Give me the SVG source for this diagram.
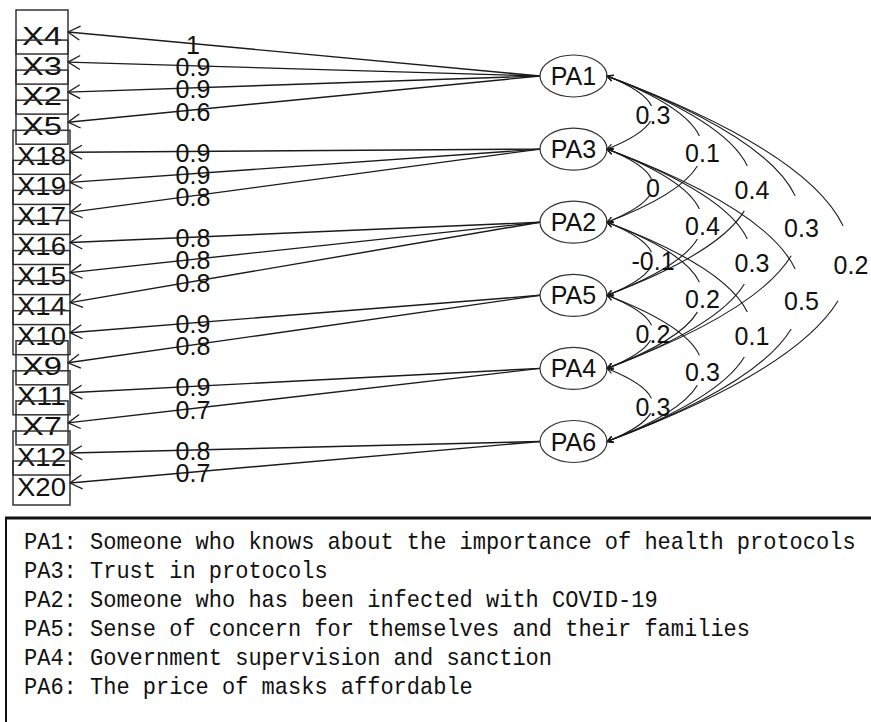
<svg xmlns="http://www.w3.org/2000/svg" width="871" height="722" viewBox="0 0 871 722">
<style>
.box{fill:none;stroke:#333;stroke-width:1.5}
.vl{font-family:"Liberation Sans",Arial,sans-serif;font-size:26px;fill:#111;text-anchor:middle}
.fe{fill:none;stroke:#333;stroke-width:1.2}
.fl{font-family:"Liberation Sans",Arial,sans-serif;font-size:25px;fill:#111;text-anchor:middle}
.ld{stroke:#1a1a1a;stroke-width:1.4;fill:none;marker-end:url(#ah)}
.cv{stroke:#1a1a1a;stroke-width:1.1;fill:none;marker-end:url(#ch)}
.el{font-family:"Liberation Sans",Arial,sans-serif;font-size:25px;fill:#111;text-anchor:middle}
.lg{font-family:"Liberation Mono","DejaVu Sans Mono",monospace;font-size:24px;fill:#111}
</style>
<defs>
<marker id="ah" markerUnits="userSpaceOnUse" viewBox="-14 -8 16 16" markerWidth="16" markerHeight="16" refX="0" refY="0" orient="auto" overflow="visible">
<path d="M-12,-7 L0,0 L-12,7" fill="none" stroke="#1a1a1a" stroke-width="1.3"/>
</marker>
<marker id="ch" markerUnits="userSpaceOnUse" viewBox="-8 -5 10 10" markerWidth="10" markerHeight="10" refX="0" refY="0" orient="auto" overflow="visible">
<path d="M-6,-3 L0,0 L-6,3" fill="none" stroke="#1a1a1a" stroke-width="1.1"/>
</marker>
</defs>
<rect x="0" y="0" width="871" height="722" fill="#fff"/>

<g id="connectors">
<g id="loadings">
<line class="ld" x1="540" y1="76" x2="68" y2="32"/>
<line class="ld" x1="540" y1="76" x2="68" y2="62.1"/>
<line class="ld" x1="540" y1="76" x2="68" y2="92.1"/>
<line class="ld" x1="540" y1="76" x2="68" y2="122.2"/>
<line class="ld" x1="540" y1="149.1" x2="70" y2="152.3"/>
<line class="ld" x1="540" y1="149.1" x2="70" y2="182.4"/>
<line class="ld" x1="540" y1="149.1" x2="70" y2="212.4"/>
<line class="ld" x1="540" y1="222.2" x2="70" y2="242.5"/>
<line class="ld" x1="540" y1="222.2" x2="70" y2="272.6"/>
<line class="ld" x1="540" y1="222.2" x2="70" y2="302.6"/>
<line class="ld" x1="540" y1="295.3" x2="70" y2="332.7"/>
<line class="ld" x1="540" y1="295.3" x2="68" y2="362.8"/>
<line class="ld" x1="540" y1="368.4" x2="70" y2="392.8"/>
<line class="ld" x1="540" y1="368.4" x2="68" y2="422.9"/>
<line class="ld" x1="540" y1="441.5" x2="70" y2="453"/>
<line class="ld" x1="540" y1="441.5" x2="70" y2="483"/>
<text class="el" x="193" y="53.6">1</text>
<text class="el" x="193" y="75.8">0.9</text>
<text class="el" x="193" y="97.9">0.9</text>
<text class="el" x="193" y="121">0.6</text>
<text class="el" x="193" y="161.5">0.9</text>
<text class="el" x="193" y="183.6">0.9</text>
<text class="el" x="193" y="205.8">0.8</text>
<text class="el" x="193" y="247.2">0.8</text>
<text class="el" x="193" y="269.3">0.8</text>
<text class="el" x="193" y="291.5">0.8</text>
<text class="el" x="193" y="332.9">0.9</text>
<text class="el" x="193" y="355">0.8</text>
<text class="el" x="193" y="396.4">0.9</text>
<text class="el" x="193" y="418.6">0.7</text>
<text class="el" x="193" y="460">0.8</text>
<text class="el" x="193" y="482.1">0.7</text>
</g>
<g id="correlations">
<path class="cv" d="M651.5,105.97 Q644.7,90.99 607,76"/>
<path class="cv" d="M650.6,120.96 Q642.4,135.03 607,149.1"/>
<path class="cv" d="M699.4,135.94 Q685.3,105.97 607,76"/>
<path class="cv" d="M697.4,165.91 Q680.5,194.06 607,222.2"/>
<path class="cv" d="M747.3,165.91 Q725.9,120.96 607,76"/>
<path class="cv" d="M744.3,210.87 Q718.7,253.08 607,295.3"/>
<path class="cv" d="M795.2,195.88 Q766.5,135.94 607,76"/>
<path class="cv" d="M791.2,255.83 Q756.8,312.11 607,368.4"/>
<path class="cv" d="M843.1,225.86 Q807.1,150.93 607,76"/>
<path class="cv" d="M838.1,300.78 Q794.9,371.14 607,441.5"/>
<path class="cv" d="M651.5,179.07 Q644.7,164.09 607,149.1"/>
<path class="cv" d="M650.6,194.06 Q642.4,208.13 607,222.2"/>
<path class="cv" d="M699.4,209.04 Q685.3,179.07 607,149.1"/>
<path class="cv" d="M697.4,239.01 Q680.5,267.16 607,295.3"/>
<path class="cv" d="M747.3,239.01 Q725.9,194.06 607,149.1"/>
<path class="cv" d="M744.3,283.97 Q718.7,326.18 607,368.4"/>
<path class="cv" d="M795.2,268.98 Q766.5,209.04 607,149.1"/>
<path class="cv" d="M791.2,328.93 Q756.8,385.21 607,441.5"/>
<path class="cv" d="M651.5,252.17 Q644.7,237.19 607,222.2"/>
<path class="cv" d="M650.6,267.16 Q642.4,281.23 607,295.3"/>
<path class="cv" d="M699.4,282.14 Q685.3,252.17 607,222.2"/>
<path class="cv" d="M697.4,312.11 Q680.5,340.26 607,368.4"/>
<path class="cv" d="M747.3,312.11 Q725.9,267.16 607,222.2"/>
<path class="cv" d="M744.3,357.07 Q718.7,399.28 607,441.5"/>
<path class="cv" d="M651.5,325.27 Q644.7,310.29 607,295.3"/>
<path class="cv" d="M650.6,340.26 Q642.4,354.33 607,368.4"/>
<path class="cv" d="M699.4,355.24 Q685.3,325.27 607,295.3"/>
<path class="cv" d="M697.4,385.21 Q680.5,413.36 607,441.5"/>
<path class="cv" d="M651.5,398.37 Q644.7,383.39 607,368.4"/>
<path class="cv" d="M650.6,413.36 Q642.4,427.43 607,441.5"/>
<text class="el" x="653" y="124">0.3</text>
<text class="el" x="702.5" y="161.5">0.1</text>
<text class="el" x="752" y="199">0.4</text>
<text class="el" x="801.5" y="236.5">0.3</text>
<text class="el" x="851" y="274">0.2</text>
<text class="el" x="653" y="197.1">0</text>
<text class="el" x="702.5" y="234.6">0.4</text>
<text class="el" x="752" y="272.1">0.3</text>
<text class="el" x="801.5" y="309.6">0.5</text>
<text class="el" x="653" y="270.2">-0.1</text>
<text class="el" x="702.5" y="307.7">0.2</text>
<text class="el" x="752" y="345.2">0.1</text>
<text class="el" x="653" y="343.3">0.2</text>
<text class="el" x="702.5" y="380.8">0.3</text>
<text class="el" x="653" y="416.4">0.3</text>
</g>
</g>

<g id="X4"><rect class="box" x="16" y="10" width="52" height="44"/><text class="vl" x="42" y="44.5" textLength="40" lengthAdjust="spacingAndGlyphs">X4</text></g>
<g id="X3"><rect class="box" x="16" y="40.1" width="52" height="44"/><text class="vl" x="42" y="74.6" textLength="40" lengthAdjust="spacingAndGlyphs">X3</text></g>
<g id="X2"><rect class="box" x="16" y="70.1" width="52" height="44"/><text class="vl" x="42" y="104.6" textLength="40" lengthAdjust="spacingAndGlyphs">X2</text></g>
<g id="X5"><rect class="box" x="16" y="100.2" width="52" height="44"/><text class="vl" x="42" y="134.7" textLength="40" lengthAdjust="spacingAndGlyphs">X5</text></g>
<g id="X18"><rect class="box" x="13" y="130.3" width="57" height="44"/><text class="vl" x="41.5" y="164.8" textLength="49" lengthAdjust="spacingAndGlyphs">X18</text></g>
<g id="X19"><rect class="box" x="13" y="160.4" width="57" height="44"/><text class="vl" x="41.5" y="194.9" textLength="49" lengthAdjust="spacingAndGlyphs">X19</text></g>
<g id="X17"><rect class="box" x="13" y="190.4" width="57" height="44"/><text class="vl" x="41.5" y="224.9" textLength="49" lengthAdjust="spacingAndGlyphs">X17</text></g>
<g id="X16"><rect class="box" x="13" y="220.5" width="57" height="44"/><text class="vl" x="41.5" y="255" textLength="49" lengthAdjust="spacingAndGlyphs">X16</text></g>
<g id="X15"><rect class="box" x="13" y="250.6" width="57" height="44"/><text class="vl" x="41.5" y="285.1" textLength="49" lengthAdjust="spacingAndGlyphs">X15</text></g>
<g id="X14"><rect class="box" x="13" y="280.6" width="57" height="44"/><text class="vl" x="41.5" y="315.1" textLength="49" lengthAdjust="spacingAndGlyphs">X14</text></g>
<g id="X10"><rect class="box" x="13" y="310.7" width="57" height="44"/><text class="vl" x="41.5" y="345.2" textLength="49" lengthAdjust="spacingAndGlyphs">X10</text></g>
<g id="X9"><rect class="box" x="16" y="340.8" width="52" height="44"/><text class="vl" x="42" y="375.3" textLength="40" lengthAdjust="spacingAndGlyphs">X9</text></g>
<g id="X11"><rect class="box" x="13" y="370.8" width="57" height="44"/><text class="vl" x="41.5" y="405.3" textLength="49" lengthAdjust="spacingAndGlyphs">X11</text></g>
<g id="X7"><rect class="box" x="16" y="400.9" width="52" height="44"/><text class="vl" x="42" y="435.4" textLength="40" lengthAdjust="spacingAndGlyphs">X7</text></g>
<g id="X12"><rect class="box" x="13" y="431" width="57" height="44"/><text class="vl" x="41.5" y="465.5" textLength="49" lengthAdjust="spacingAndGlyphs">X12</text></g>
<g id="X20"><rect class="box" x="13" y="461" width="57" height="44"/><text class="vl" x="41.5" y="495.5" textLength="49" lengthAdjust="spacingAndGlyphs">X20</text></g>

<g id="PA1"><ellipse class="fe" cx="573.5" cy="76" rx="33.5" ry="21"/><text class="fl" x="573.5" y="85">PA1</text></g>
<g id="PA3"><ellipse class="fe" cx="573.5" cy="149.1" rx="33.5" ry="21"/><text class="fl" x="573.5" y="158.1">PA3</text></g>
<g id="PA2"><ellipse class="fe" cx="573.5" cy="222.2" rx="33.5" ry="21"/><text class="fl" x="573.5" y="231.2">PA2</text></g>
<g id="PA5"><ellipse class="fe" cx="573.5" cy="295.3" rx="33.5" ry="21"/><text class="fl" x="573.5" y="304.3">PA5</text></g>
<g id="PA4"><ellipse class="fe" cx="573.5" cy="368.4" rx="33.5" ry="21"/><text class="fl" x="573.5" y="377.4">PA4</text></g>
<g id="PA6"><ellipse class="fe" cx="573.5" cy="441.5" rx="33.5" ry="21"/><text class="fl" x="573.5" y="450.5">PA6</text></g>

<g id="legend">
<path d="M6,722 V518" stroke="#111" stroke-width="2" fill="none"/>
<path d="M5,518 H871" stroke="#111" stroke-width="3" fill="none"/>
<text class="lg" x="24" y="548.5" textLength="831.6" lengthAdjust="spacingAndGlyphs">PA1: Someone who knows about the importance of health protocols</text>
<text class="lg" x="24" y="577.5" textLength="303.6" lengthAdjust="spacingAndGlyphs">PA3: Trust in protocols</text>
<text class="lg" x="24" y="606.5" textLength="633.6" lengthAdjust="spacingAndGlyphs">PA2: Someone who has been infected with COVID-19</text>
<text class="lg" x="24" y="635.5" textLength="726" lengthAdjust="spacingAndGlyphs">PA5: Sense of concern for themselves and their families</text>
<text class="lg" x="24" y="664.5" textLength="528" lengthAdjust="spacingAndGlyphs">PA4: Government supervision and sanction</text>
<text class="lg" x="24" y="693.5" textLength="448.8" lengthAdjust="spacingAndGlyphs">PA6: The price of masks affordable</text>
</g>
</svg>
